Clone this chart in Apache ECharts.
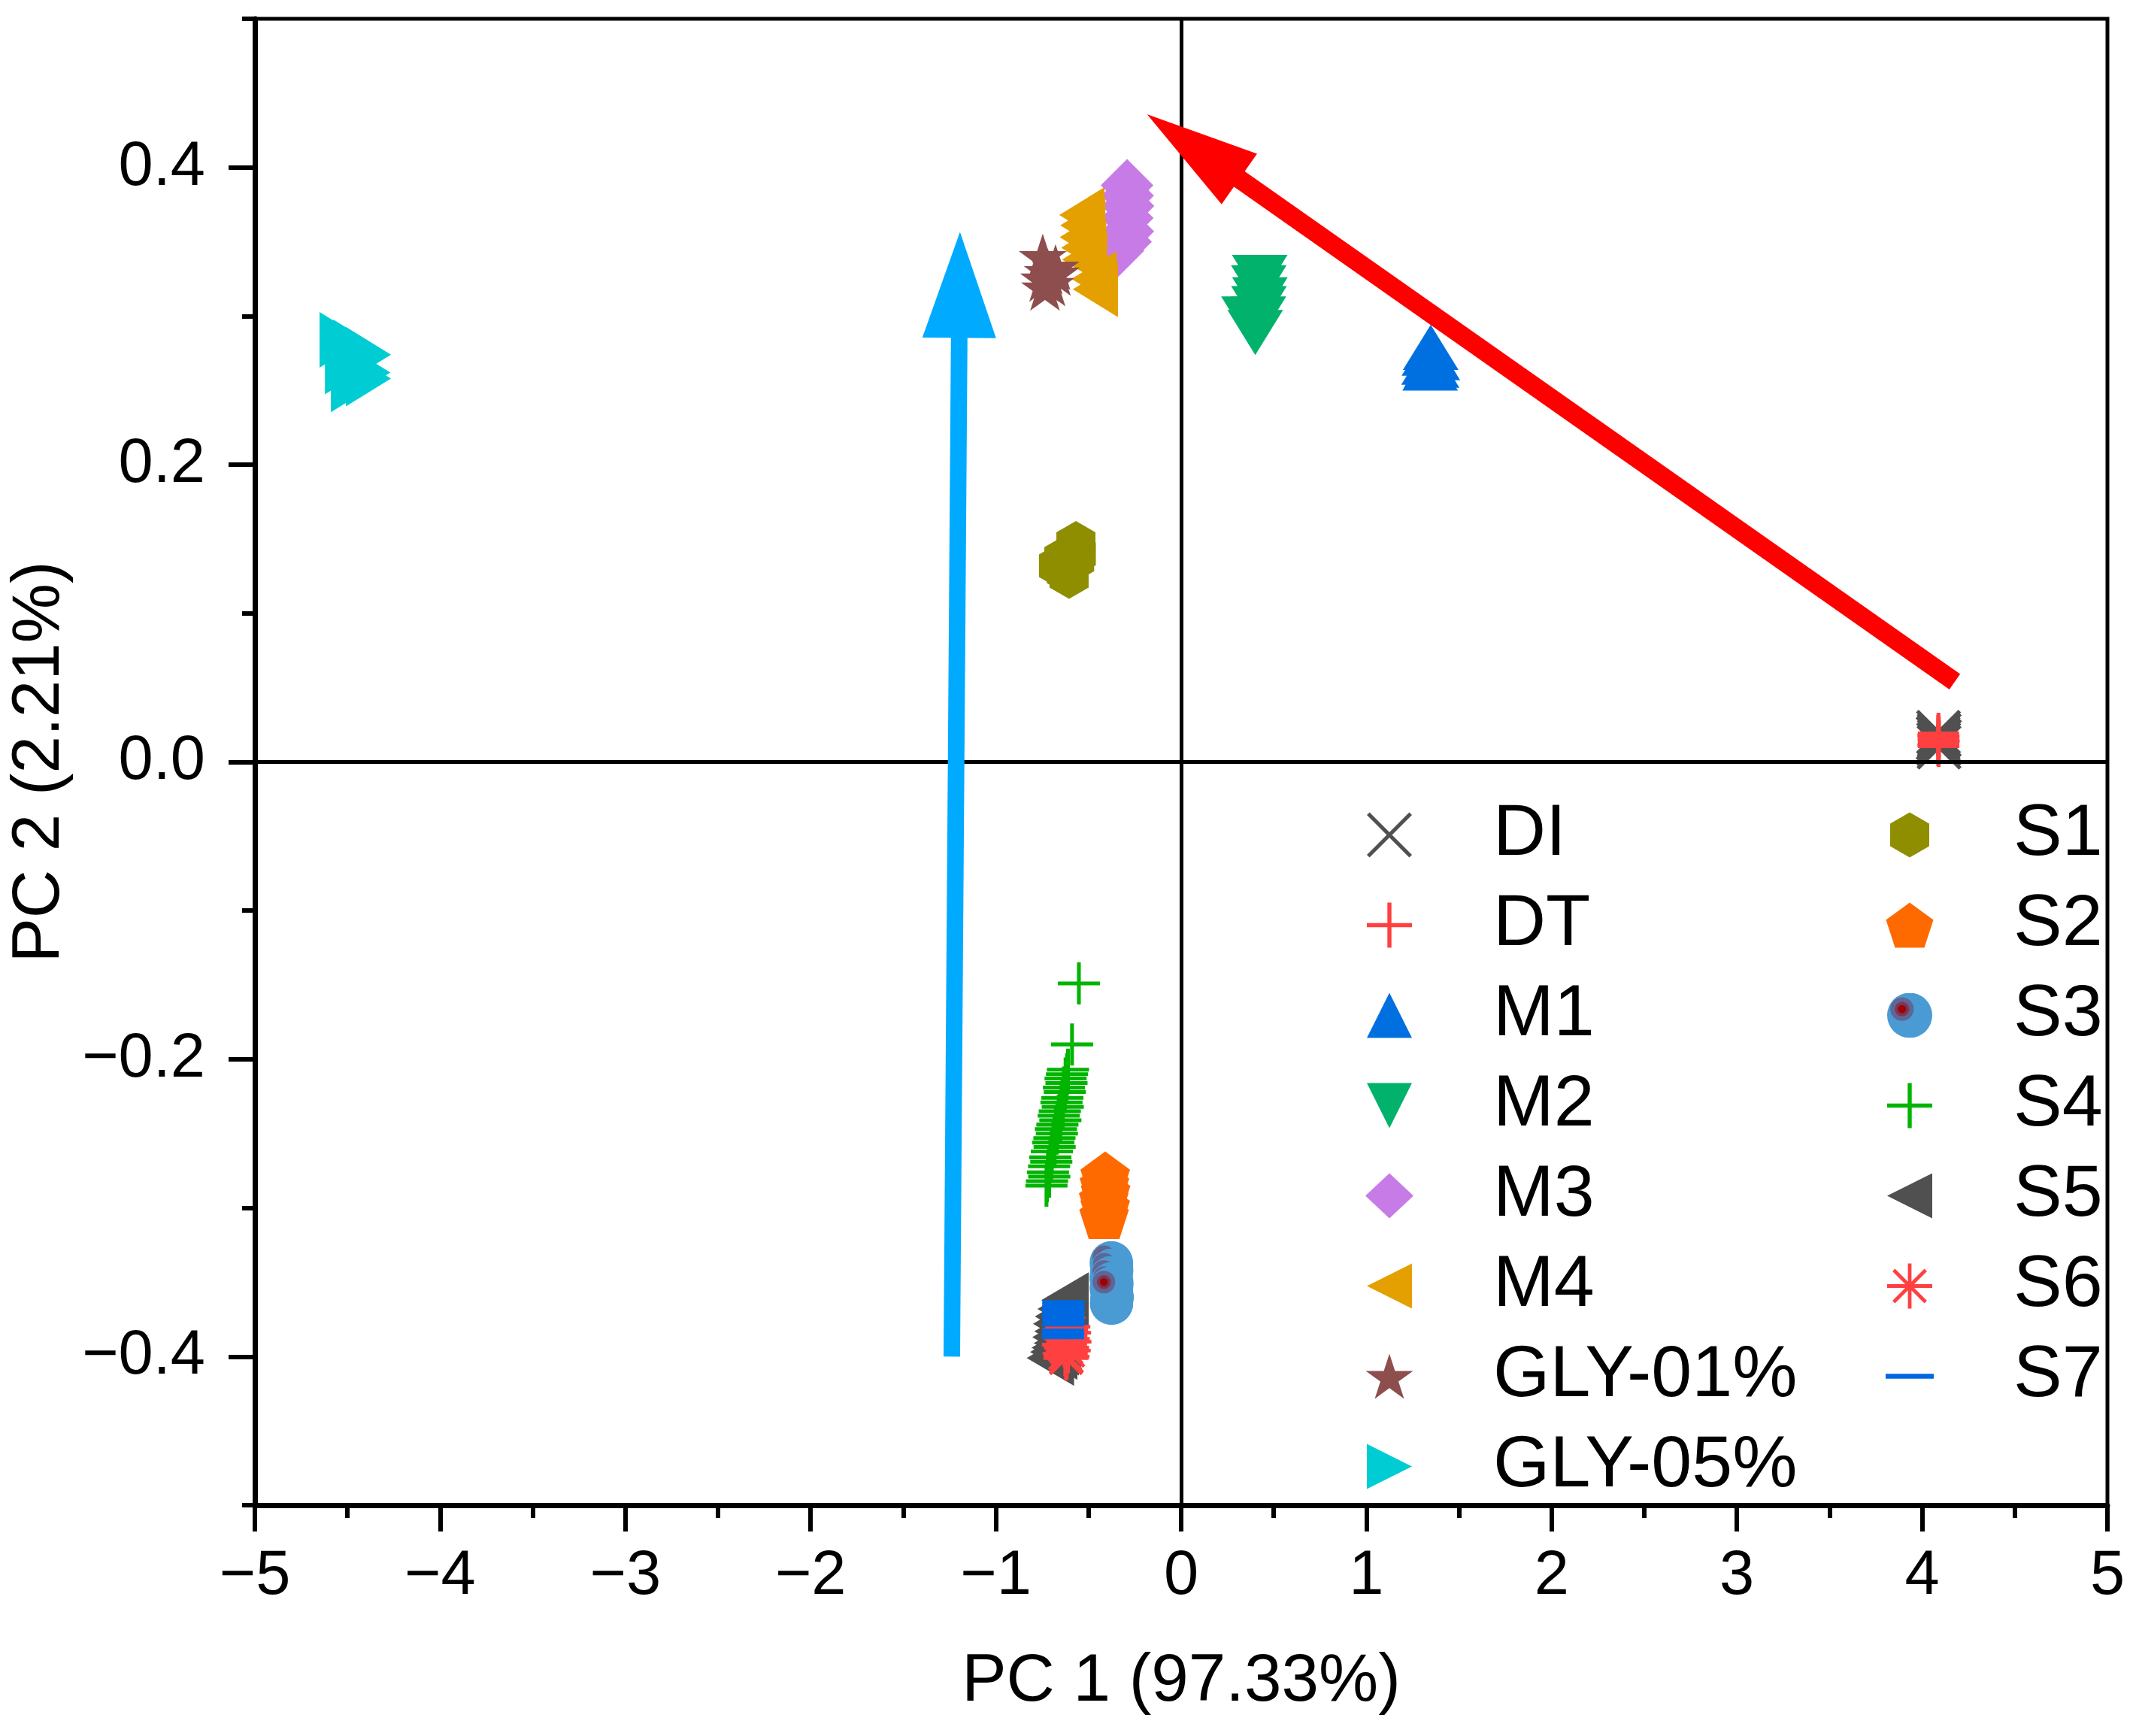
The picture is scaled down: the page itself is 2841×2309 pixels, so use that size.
<!DOCTYPE html>
<html>
<head>
<meta charset="utf-8">
<title>PCA scores</title>
<script src="https://cdn.jsdelivr.net/npm/echarts@6.0.0/dist/echarts.min.js"></script>
<style>
  html, body { margin: 0; padding: 0; background: #fff; }
  #chart { width: 2841px; height: 2309px; }
</style>
</head>
<body>
<div id="chart"></div>
<script>
// score points of every group (PC 1, PC 2)
const DI = [[4.088, 0.020], [4.092, 0.018], [4.086, 0.016], [4.093, 0.014], [4.089, 0.012], [4.091, 0.010]];
const DT = [[4.088, 0.0192], [4.086, 0.0178], [4.090, 0.0169], [4.087, 0.0151], [4.091, 0.0140], [4.088, 0.0127], [4.086, 0.0113], [4.089, 0.0106]];
const M1 = [[1.347, 0.279], [1.340, 0.275], [1.356, 0.272], [1.338, 0.269], [1.352, 0.267], [1.344, 0.265]];
const M2 = [[0.424, 0.326], [0.419, 0.319], [0.425, 0.311], [0.420, 0.305], [0.417, 0.298], [0.366, 0.298], [0.400, 0.289]];
const M3 = [[-0.292, 0.388], [-0.289, 0.381], [-0.287, 0.374], [-0.291, 0.366], [-0.288, 0.357], [-0.300, 0.350], [-0.341, 0.344]];
const M4 = [[-0.536, 0.368], [-0.531, 0.361], [-0.534, 0.353], [-0.526, 0.346], [-0.521, 0.338], [-0.470, 0.325], [-0.463, 0.318]];
const GLY01 = [[-0.747, 0.340], [-0.678, 0.333], [-0.720, 0.330], [-0.676, 0.329], [-0.740, 0.325], [-0.705, 0.322], [-0.735, 0.319]];
const GLY05 = [[-4.529, 0.284], [-4.455, 0.279], [-4.387, 0.274], [-4.500, 0.266], [-4.390, 0.262], [-4.387, 0.258], [-4.468, 0.254]];
const S1 = [[-0.568, 0.147], [-0.566, 0.140], [-0.575, 0.136], [-0.633, 0.137], [-0.662, 0.132], [-0.620, 0.128], [-0.605, 0.125]];
const S2 = [[-0.410, -0.278], [-0.414, -0.284], [-0.408, -0.289], [-0.418, -0.294], [-0.410, -0.299], [-0.416, -0.305]];
const S3 = [[-0.377, -0.337], [-0.375, -0.342], [-0.378, -0.347], [-0.374, -0.351], [-0.376, -0.364], [-0.373, -0.360], [-0.377, -0.354]];
const S4 = [[-0.552, -0.149], [-0.589, -0.190], [-0.611, -0.207], [-0.616, -0.210], [-0.624, -0.213], [-0.619, -0.216],
  [-0.633, -0.219], [-0.628, -0.222], [-0.641, -0.226], [-0.646, -0.229], [-0.639, -0.232], [-0.655, -0.235],
  [-0.661, -0.238], [-0.652, -0.241], [-0.668, -0.244], [-0.676, -0.247], [-0.671, -0.250], [-0.684, -0.253],
  [-0.690, -0.256], [-0.683, -0.259], [-0.698, -0.262], [-0.706, -0.266], [-0.701, -0.269], [-0.713, -0.272],
  [-0.719, -0.276], [-0.712, -0.279], [-0.724, -0.282], [-0.727, -0.285]];
const S5 = [[-0.627, -0.362], [-0.648, -0.368], [-0.662, -0.373], [-0.672, -0.378], [-0.665, -0.383], [-0.676, -0.387],
  [-0.668, -0.391], [-0.680, -0.394], [-0.688, -0.397], [-0.706, -0.401]];
const S6 = [[-0.612, -0.380], [-0.624, -0.382], [-0.608, -0.384], [-0.628, -0.386], [-0.615, -0.388], [-0.606, -0.390],
  [-0.630, -0.392], [-0.619, -0.394], [-0.610, -0.396], [-0.626, -0.398], [-0.617, -0.400], [-0.622, -0.401]];
const S7 = [[-0.636, -0.3635], [-0.635, -0.3652], [-0.637, -0.3668], [-0.636, -0.3686], [-0.635, -0.3701], [-0.636, -0.3719],
  [-0.637, -0.3733], [-0.636, -0.3752], [-0.635, -0.3768], [-0.636, -0.3784], [-0.638, -0.3826], [-0.637, -0.3842],
  [-0.638, -0.3859], [-0.637, -0.3868]];

// annotation arrows: tail, centre of the head
const blueArrow = [[-1.238, -0.4], [-1.196, 0.321]];
const redArrow = [[4.176, 0.054], [0.065, 0.414]];

const yLabelValues = [-0.4, -0.2, 0, 0.2, 0.4];
const legendLeft = ['DI', 'DT', 'M1', 'M2', 'M3', 'M4', 'GLY-01%', 'GLY-05%'];
const legendRight = ['S1', 'S2', 'S3', 'S4', 'S5', 'S6', 'S7'];

const FONT = 'Liberation Sans, Arial, sans-serif';

// marker shapes
const P_X = 'path://M0 6 L6 0 L100 94 L94 100 Z M94 0 L100 6 L6 100 L0 94 Z';
const P_PLUS = 'path://M0 45.5 L100 45.5 L100 54.5 L0 54.5 Z M45.5 0 L54.5 0 L54.5 100 L45.5 100 Z';
const P_STAR = 'path://M50 0 L61.23 34.55 L97.55 34.55 L68.17 55.9 L79.39 90.45 L50 69.1 L20.61 90.45 L31.83 55.9 L2.45 34.55 L38.77 34.55 Z';
const P_HEX = 'path://M43.3 0 L86.6 25 L86.6 75 L43.3 100 L0 75 L0 25 Z';
const P_PENT = 'path://M50 0 L97.55 34.55 L79.39 90.45 L20.61 90.45 L2.45 34.55 Z';
const P_AST = 'path://M0 46 L100 46 L100 54 L0 54 Z M46 0 L54 0 L54 100 L46 100 Z ' +
  'M11.8 17.4 L17.4 11.8 L88.2 82.6 L82.6 88.2 Z M82.6 11.8 L88.2 17.4 L17.4 88.2 L11.8 82.6 Z';
const P_MINUS = 'path://M0 0 L100 0 L100 10 L0 10 Z';
const P_TRI_UP = 'path://M50 0 L100 100 L0 100 Z';
const P_TRI_DOWN = 'path://M0 0 L100 0 L50 100 Z';
const P_TRI_LEFT = 'path://M100 0 L100 100 L0 50 Z';
const P_TRI_RIGHT = 'path://M0 0 L100 50 L0 100 Z';

const s3Svg = '<svg xmlns="http://www.w3.org/2000/svg" width="100" height="100" viewBox="0 0 100 100">' +
  '<circle cx="50" cy="50" r="50" fill="#4a9bd4"/>' +
  '<circle cx="33" cy="36" r="26" fill="#8c001e" fill-opacity="0.35"/>' +
  '<circle cx="33" cy="36" r="16" fill="#96000f" fill-opacity="0.45"/>' +
  '<circle cx="33" cy="36" r="9" fill="#a00000"/></svg>';
const P_S3 = 'image://data:image/svg+xml;charset=utf-8,' + encodeURIComponent(s3Svg);

function fmt(v, digits) {
  const s = Math.abs(v).toFixed(digits);
  return v < -1e-9 ? '\u2212' + s : s;
}

function group(name, data, symbol, size, color) {
  return {
    name: name,
    type: 'scatter',
    data: data,
    symbol: symbol,
    symbolSize: size,
    itemStyle: { color: color, opacity: 1 },
    emphasis: { disabled: true },
    silent: true
  };
}

function arrow(pts, color, width, head) {
  return {
    type: 'scatter',
    data: [],
    markLine: {
      silent: true,
      animation: false,
      symbol: ['none', 'triangle'],
      symbolSize: head,
      label: { show: false },
      lineStyle: { color: color, width: width, type: 'solid', cap: 'butt', opacity: 1 },
      data: [[{ coord: pts[0] }, { coord: pts[1] }]]
    }
  };
}

const tickStyle = { color: '#000', width: 6 };

const legendBase = {
  orient: 'vertical',
  top: 1062,
  itemWidth: 64,
  itemHeight: 60,
  itemGap: 23,
  padding: 0,
  selectedMode: false,
  textStyle: { fontSize: 97, color: '#000', fontFamily: FONT, padding: [0, 0, 0, 101] }
};

const chart = echarts.init(document.getElementById('chart'), null, { renderer: 'canvas' });

chart.setOption({
  animation: false,
  backgroundColor: '#fff',
  textStyle: { fontFamily: FONT },
  grid: {
    left: 339, right: 38, top: 25, bottom: 307,
    show: true, borderColor: '#000', borderWidth: 5,
    containLabel: false, outerBoundsMode: 'none'
  },
  legend: [
    Object.assign({}, legendBase, { data: legendLeft, left: 1816 }),
    Object.assign({}, legendBase, { data: legendRight, left: 2508 })
  ],
  xAxis: {
    type: 'value', min: -5, max: 5, interval: 1,
    name: 'PC 1 (97.33%)', nameLocation: 'middle', nameGap: 191,
    nameTextStyle: { fontSize: 89, color: '#000', fontFamily: FONT },
    axisLine: { show: true, onZero: false, lineStyle: { color: '#000', width: 7 } },
    axisTick: { show: true, length: 35, lineStyle: tickStyle },
    minorTick: { show: true, splitNumber: 2, length: 17, lineStyle: tickStyle },
    axisLabel: { fontSize: 83, color: '#000', margin: 54, showMinLabel: true, showMaxLabel: true,
      formatter: function (v) { return fmt(v, 0); } },
    splitLine: { show: false },
    minorSplitLine: { show: false }
  },
  yAxis: [
    {
      type: 'value', min: -0.5, max: 0.5, interval: 0.1,
      name: 'PC 2 (2.21%)', nameLocation: 'middle', nameGap: 218,
      nameTextStyle: { fontSize: 89, color: '#000', fontFamily: FONT },
      axisLine: { show: true, onZero: false, lineStyle: { color: '#000', width: 7 } },
      axisTick: { show: true, length: 17, lineStyle: tickStyle },
      axisLabel: { fontSize: 83, color: '#000', margin: 66,
        formatter: function (v) { return Math.abs(Math.round(v * 10)) % 2 === 0 ? fmt(v, 1) : ''; } },
      splitLine: { show: false }
    },
    {
      type: 'value', min: -0.5, max: 0.5, interval: 0.1, position: 'left',
      axisLine: { show: false, onZero: false },
      axisTick: { show: true, length: 35, lineStyle: tickStyle, customValues: yLabelValues },
      axisLabel: { show: false },
      splitLine: { show: false }
    }
  ],
  series: [
    group('DI', DI, P_X, [60, 60], '#505050'),
    group('DT', DT, P_PLUS, [55, 55], '#ff4040'),
    group('M1', M1, P_TRI_UP, [74, 60], '#0070e0'),
    group('M2', M2, P_TRI_DOWN, [74, 60], '#00b26b'),
    group('M3', M3, 'diamond', [70, 70], '#c77be6'),
    group('M4', M4, P_TRI_LEFT, [60, 74], '#e3a000'),
    group('GLY-01%', GLY01, P_STAR, [64, 61], '#8e4e4e'),
    group('GLY-05%', GLY05, P_TRI_RIGHT, [60, 74], '#00cdd3'),
    group('S1', S1, P_HEX, [52, 60], '#8e8e00'),
    group('S2', S2, P_PENT, [66, 63], '#ff6a00'),
    group('S3', S3, P_S3, [58, 58], '#4a9bd4'),
    group('S4', S4, P_PLUS, [56, 56], '#00b400'),
    group('S5', S5, P_TRI_LEFT, [63, 74], '#505050'),
    group('S6', S6, P_AST, [60, 60], '#ff4040'),
    group('S7', S7, P_MINUS, [56, 6], '#0068e0'),
    {
      // zero lines
      type: 'scatter',
      data: [],
      markLine: {
        silent: true,
        animation: false,
        symbol: ['none', 'none'],
        label: { show: false },
        lineStyle: { color: '#000', width: 5, type: 'solid' },
        data: [{ xAxis: 0 }, { yAxis: 0 }]
      }
    },
    arrow(blueArrow, '#00aaff', 22, [98, 141]),
    arrow(redArrow, '#ff0000', 25, [82, 150])
  ]
});
</script>
</body>
</html>
